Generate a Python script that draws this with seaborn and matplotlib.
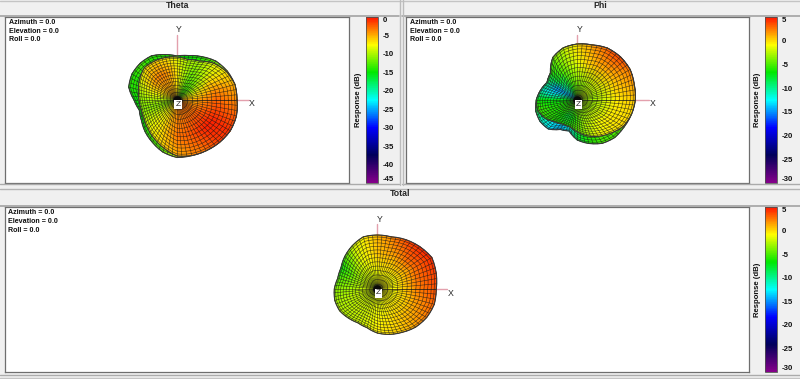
import numpy as np
import matplotlib
matplotlib.use("Agg")
import matplotlib.pyplot as plt
from matplotlib.cm import ScalarMappable
from matplotlib.colors import Normalize
from matplotlib.lines import Line2D
import seaborn as sns

# angles of the table columns, degrees counter clockwise from +X
angles = list(range(0, 360, 15))

# radius of each surface in screen pixels, colour values in dB (outer, mid, inner ring)
theta_back_r = [60, 60, 58, 55, 50, 46, 44, 47, 51, 52, 52, 50, 43, 39, 41, 45, 49, 54, 57.5, 57.5, 58.5, 60, 61.5, 61.5]
theta_front_r = [60, 60, 57, 52, 45, 42, 43, 44, 45, 46, 43, 40, 38, 37, 38, 41, 45, 50, 56, 57.5, 58.5, 60, 61.5, 61.5]
theta_back_db = [-8, -8, -9, -12, -14, -15, -15, -14, -14, -13, -14, -14, -15, -15, -15, -14, -13, -12, -9, -8, -8, -8, -8, -8]
theta_outer_db = [-4, -5, -7, -8, -10, -10, -8.5, -7, -6.5, -7, -8.5, -10, -11, -11, -9.5, -8, -7, -6, -5, -4, -3, -1.5, -1, -2.5]
theta_mid_db = [-2.5, -4, -6.5, -10, -12, -10, -7, -4.5, -3.5, -4, -5.5, -8, -10, -11, -9.5, -8, -7, -5, -3, -2.5, -1.5, -0.5, -0.5, -1.5]
theta_inner_db = [-5, -7, -10, -13, -13, -10, -7, -5.5, -5, -5, -6, -8, -10, -11, -10, -8, -7, -5, -4, -3.5, -3, -3, -3, -4]

phi_back_r = [58, 59, 61, 61, 60, 57, 56, 54, 49, 38, 35, 38, 41, 43, 43, 41, 34, 32, 40, 45, 50, 53, 54, 56]
phi_front_r = [58, 59, 61, 61, 60, 57, 56, 54, 49, 38, 35, 38, 41, 41, 37, 31, 28, 28, 32, 37, 42, 47, 53, 56]
phi_back_db = [0, 0, 0, 0, 0, 0, 0, 0, 0, 0, 0, 0, -6, -8, -11, -13, -14, -12, -8, -6, -5, -5, -5, -3]
phi_outer_db = [0.5, 1.5, 2.5, 3.8, 3, 1.5, 0, -2, -4, -6, -9, -11, -6.5, -5, -5.5, -6, -6, -5.5, -4, -3, -1, -0.5, 0, 0]
phi_mid_db = [-0.5, 0, 0.5, 1, 1, 0, -1.5, -3, -5, -8, -15, -13, -7, -6, -6, -6.5, -8, -7, -5.5, -3, -2, -1, -0.5, -0.5]
phi_inner_db = [-3, -3, -2.5, -2.5, -3, -3.5, -4, -5, -8, -12, -14, -10, -7, -6, -6, -5, -5, -4.5, -4, -4, -3.5, -3, -3, -3]

total_r = [59, 61, 63, 60, 57, 54, 54, 54, 50, 46, 42, 41, 43, 44, 43.5, 41, 39, 40, 44, 47, 50, 54, 57, 59]
total_outer_db = [3.5, 4, 4.5, 4.5, 3.5, 2, 1, -0.5, -2, -5, -7, -5, -3.5, -3, -2.5, -2.5, -2, -1.5, -0.5, 0, 0.5, 1.5, 2.5, 3]
total_mid_db = [2, 2.5, 2.5, 2.5, 1.5, 1, 0.5, -0.5, -1.5, -3, -4, -3.5, -3, -2.5, -2.5, -2, -2, -1.5, -1, -0.5, 0, 0.5, 1, 1.5]
total_inner_db = [-1, -1, -1, -1, -1, -1, -1.5, -1.5, -2, -2, -2, -2, -2, -2, -2, -2, -2, -1.5, -1.5, -1.5, -1, -1, -1, -1]

# colour bars
theta_ticks = [0, -5, -10, -15, -20, -25, -30, -35, -40, -45]
wide_ticks = [5, 0, -5, -10, -15, -20, -25, -30]

info_lines = ["Azimuth = 0.0", "Elevation = 0.0", "Roll = 0.0"]

WIDTH, HEIGHT = 800, 379
CHROME = "#f0f0f0"
FRAME = "#6e6e6e"
AXIS_PINK = "#e3a0ad"

sns.set_theme(style="white")
plt.rcParams["font.family"] = ["Liberation Sans", "DejaVu Sans"]

# palette runs from the lowest dB to the highest
response_cmap = sns.blend_palette(
    ["#85008a", "#00005a", "#0000ff", "#00ffff", "#00e800", "#ffff00", "#ff1500"],
    n_colors=256,
    as_cmap=True,
)


def px_axes(fig, x0, y0, x1, y1):
    """Axes from a pixel box, y counted from the top of the picture."""
    return fig.add_axes([x0 / WIDTH, 1 - y1 / HEIGHT, (x1 - x0) / WIDTH, (y1 - y0) / HEIGHT])


def draw_surface(ax, radii, ring_db, vmin, vmax, zorder):
    """Shaded surface on the table nodes, wire mesh of 5 degree spokes on top."""
    ang = np.deg2rad(angles + [360])
    r_closed = np.array(radii + radii[:1], dtype=float)
    fracs = np.array([0.02, 0.3, 0.65, 1.0])
    colors = np.array([(row + row[:1]) for row in ring_db], dtype=float)
    big_r = np.outer(fracs, r_closed)
    ax.pcolormesh(
        big_r * np.cos(ang),
        big_r * np.sin(ang),
        colors,
        shading="gouraud",
        cmap=response_cmap,
        vmin=vmin,
        vmax=vmax,
        zorder=zorder,
    )

    wire_deg = np.arange(0, 361, 5)
    wire_r = np.interp(wire_deg, angles + [360], r_closed)
    wire_ang = np.deg2rad(wire_deg)
    # rings get tighter towards the rim, the surface turns away from the viewer there
    ring_fracs = 1 - np.linspace(1, 0, 15) ** 1.25
    wire = np.outer(ring_fracs, wire_r)
    wire_x = wire * np.cos(wire_ang)
    wire_y = wire * np.sin(wire_ang)
    ax.plot(wire_x, wire_y, color="#181818", lw=0.42, alpha=0.8, zorder=zorder + 0.1)
    ax.plot(wire_x.T, wire_y.T, color="#181818", lw=0.42, alpha=0.8, zorder=zorder + 0.1)
    ax.plot(wire_x[-1], wire_y[-1], color="#383838", lw=0.8, zorder=zorder + 0.2)


def draw_panel(fig, box, center, layers, vmin, vmax, ticks, bar_box, axis_len):
    x0, y0, x1, y1 = box
    cx, cy = center
    ax = px_axes(fig, x0, y0, x1, y1)
    ax.set_xlim(x0 - cx, x1 - cx)
    ax.set_ylim(cy - y1, cy - y0)
    ax.set_xticks([])
    ax.set_yticks([])
    for spine in ax.spines.values():
        spine.set_color(FRAME)
        spine.set_linewidth(0.9)

    # pink axes go behind the surface
    ax.plot([0, axis_len[0]], [0, 0], color=AXIS_PINK, lw=1.0, zorder=1)
    ax.plot([0, 0], [0, axis_len[1]], color=AXIS_PINK, lw=1.0, zorder=1)

    for i, (radii, ring_db) in enumerate(layers):
        draw_surface(ax, radii, ring_db, vmin, vmax, zorder=2 + i)

    # all the spokes run together at the middle
    ax.scatter([0], [0], s=38, color="#0a0a0a", linewidths=0, zorder=7)

    ax.text(axis_len[0] + 3, -4, "X", fontsize=6.3, ha="center", va="center", zorder=8)
    ax.text(2, axis_len[1] + 5, "Y", fontsize=6.3, ha="center", va="center", zorder=8)
    ax.text(
        1, -4, "Z", fontsize=6, ha="center", va="center", zorder=8,
        bbox=dict(boxstyle="square,pad=0.12", fc="white", ec="none"),
    )

    for j, line in enumerate(info_lines):
        ax.text(
            (x0 + 4 - cx), cy - (y0 + 6 + j * 8.6), line,
            fontsize=5.1, fontweight="bold", ha="left", va="center", color="#101010",
        )

    # colour bar with the end labels held inside the bar height
    cax = px_axes(fig, *bar_box)
    bar = fig.colorbar(
        ScalarMappable(norm=Normalize(vmin, vmax), cmap=response_cmap), cax=cax
    )
    bar.set_ticks(ticks)
    bar.set_ticklabels([str(t) for t in ticks])
    cax.tick_params(length=0, pad=3.6, labelsize=5.6)
    bar.outline.set_edgecolor("#505050")
    bar.outline.set_linewidth(0.6)
    labels = cax.get_yticklabels()
    for label in labels:
        label.set_fontweight("bold")
        label.set_color("#101010")
    top_i = ticks.index(vmax)
    bottom_i = ticks.index(vmin)
    labels[top_i].set_verticalalignment("top")
    labels[bottom_i].set_verticalalignment("bottom")

    fig.text(
        (bar_box[0] - 7.5) / WIDTH, 1 - (bar_box[1] + 83) / HEIGHT, "Response (dB)",
        rotation=90, fontsize=5.6, fontweight="bold", ha="center", va="center", color="#101010",
    )


def draw_chrome(fig):
    def hline(y, x0, x1, color, lw):
        fig.add_artist(Line2D([x0 / WIDTH, x1 / WIDTH], [1 - y / HEIGHT] * 2, color=color, lw=lw))

    def vline(x, y0, y1, color, lw):
        fig.add_artist(Line2D([x / WIDTH] * 2, [1 - y0 / HEIGHT, 1 - y1 / HEIGHT], color=color, lw=lw))

    hline(0.5, 0, 800, "#c4c4c4", 1.0)
    hline(15.8, 0, 399, "#a2a2a2", 1.2)
    hline(15.8, 402, 800, "#a2a2a2", 1.2)
    hline(184.5, 0, 399, "#ababab", 1.0)
    hline(184.5, 402, 800, "#ababab", 1.0)
    hline(188.5, 0, 800, "#b4b4b4", 1.0)
    hline(206, 0, 800, "#a2a2a2", 1.2)
    hline(375, 0, 800, "#ababab", 1.0)
    hline(378, 0, 800, "#c4c4c4", 1.0)
    vline(399.5, 0, 185, "#bcbcbc", 1.0)
    vline(402.5, 0, 185, "#bcbcbc", 1.0)

    fig.text(178 / WIDTH, 1 - 5 / HEIGHT, "Theta", fontsize=6.3, fontweight="bold", ha="center", va="center")
    fig.text(600 / WIDTH, 1 - 5 / HEIGHT, "Phi", fontsize=6.3, fontweight="bold", ha="center", va="center")
    fig.text(400 / WIDTH, 1 - 194 / HEIGHT, "Total", fontsize=6.3, fontweight="bold", ha="center", va="center")


def main():
    fig = plt.figure(figsize=(WIDTH / 100, HEIGHT / 100), dpi=100, facecolor=CHROME)
    draw_chrome(fig)

    draw_panel(
        fig, (5, 16.5, 349, 183), (177, 100),
        [
            (theta_back_r, [theta_back_db, theta_back_db, theta_back_db, theta_back_db]),
            (theta_front_r, [theta_inner_db, theta_inner_db, theta_mid_db, theta_outer_db]),
        ],
        -45, 0, theta_ticks, (366, 17, 378, 183), (72, 65),
    )
    draw_panel(
        fig, (405.5, 16.5, 749, 183), (577.3, 100),
        [
            (phi_back_r, [phi_back_db, phi_back_db, phi_back_db, phi_back_db]),
            (phi_front_r, [phi_inner_db, phi_inner_db, phi_mid_db, phi_outer_db]),
        ],
        -30, 5, wide_ticks, (765, 17, 777, 183), (72, 65),
    )
    draw_panel(
        fig, (4.5, 207, 749, 372), (377.3, 289),
        [(total_r, [total_inner_db, total_inner_db, total_mid_db, total_outer_db])],
        -30, 5, wide_ticks, (765, 207, 777, 372), (70, 65),
    )

    fig.savefig("out.png", dpi=100, facecolor=CHROME)
    plt.close(fig)


if __name__ == "__main__":
    main()
